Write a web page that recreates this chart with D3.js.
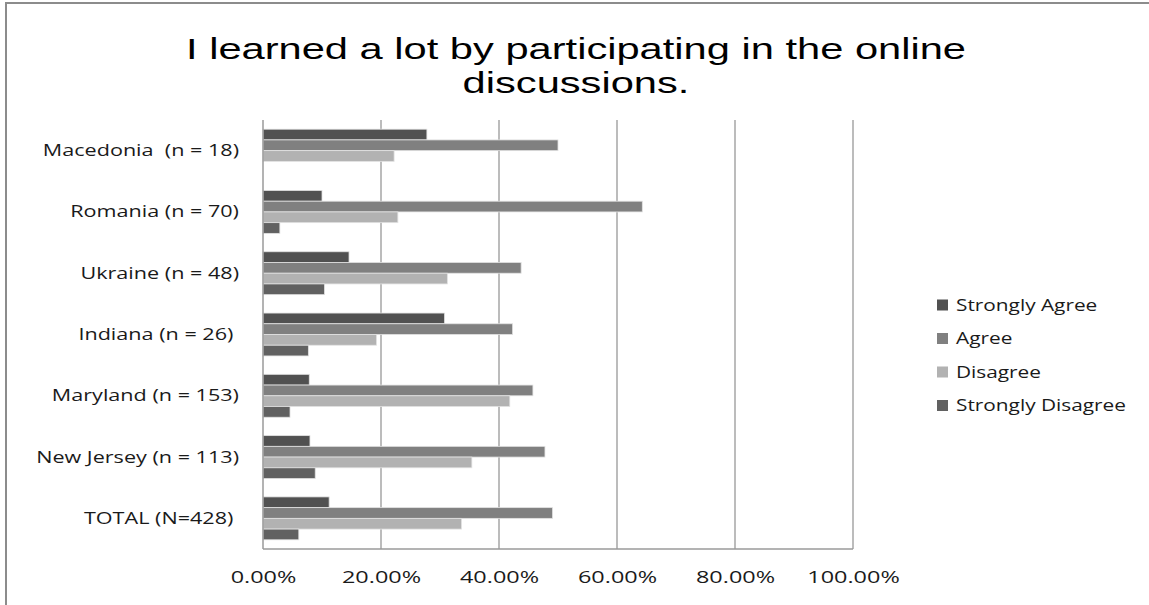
<!DOCTYPE html>
<html>
<head>
<meta charset="utf-8">
<script src="https://cdn.jsdelivr.net/npm/d3@7/dist/d3.min.js"></script>
<style>
  html, body { margin: 0; padding: 0; background: #fff; }
  svg { display: block; }
  text { font-family: "Open Sans", "DejaVu Sans", sans-serif; fill: #1a1a1a; }
</style>
</head>
<body>
<svg id="chart" width="1149" height="605"></svg>
<script>
// ---- data ----
const categories = [
  "Macedonia  (n = 18)",
  "Romania (n = 70)",
  "Ukraine (n = 48)",
  "Indiana (n = 26) ",
  "Maryland (n = 153)",
  "New Jersey (n = 113)",
  "TOTAL (N=428) "
];
const seriesNames = ["Strongly Agree", "Agree", "Disagree", "Strongly Disagree"];
const stronglyAgree    = [27.78, 10.00, 14.58, 30.77,  7.84,  7.96, 11.21];
const agree            = [50.00, 64.29, 43.75, 42.31, 45.75, 47.79, 49.07];
const disagree         = [22.22, 22.86, 31.25, 19.23, 41.83, 35.40, 33.64];
const stronglyDisagree = [ 0.00,  2.86, 10.42,  7.69,  4.58,  8.85,  6.07];
const xTicks = [0, 20, 40, 60, 80, 100];
const titleLines = ["I learned a lot by participating in the online", "discussions."];

const seriesValues = [stronglyAgree, agree, disagree, stronglyDisagree];
const colors = ["#515151", "#808080", "#b2b2b2", "#616161"];

// horizontally stretch text (the reference type is wide)
function stretch(sel, factor) {
  sel.each(function () {
    const w = this.getComputedTextLength();
    d3.select(this).attr("textLength", w * factor).attr("lengthAdjust", "spacingAndGlyphs");
  });
}

// ---- layout ----
const svg = d3.select("#chart");
const plot = { left: 263, right: 853, top: 120, bottom: 549 };

// frame
svg.append("rect")
  .attr("x", 6).attr("y", 3)
  .attr("width", 1160).attr("height", 620)
  .attr("fill", "none").attr("stroke", "#8c8c8c").attr("stroke-width", 2);

// title
const titleSel = svg.append("g").selectAll("text").data(titleLines).join("text")
  .attr("x", 576)
  .attr("y", (d, i) => 59 + i * 34)
  .attr("text-anchor", "middle")
  .style("font-family", "'Liberation Sans', Arimo, sans-serif")
  .style("font-size", "30px")
  .style("fill", "#000")
  .text(d => d);
const titleFactor = 780 / titleSel.node().getComputedTextLength();
titleSel.call(stretch, titleFactor);

const x = d3.scaleLinear().domain([0, 100]).range([plot.left, plot.right]);
const y = d3.scaleBand().domain(categories).range([plot.top, plot.bottom])
  .paddingInner(0.3).paddingOuter(0.15);
const ySub = d3.scaleBand().domain(seriesNames).range([0, y.bandwidth()]);

// gridlines
svg.append("g").selectAll("line").data(xTicks.slice(1)).join("line")
  .attr("x1", d => x(d)).attr("x2", d => x(d))
  .attr("y1", plot.top).attr("y2", plot.bottom)
  .attr("stroke", "#a6a6a6").attr("stroke-width", 1.5);

// bars
const rows = [];
categories.forEach((c, ci) => {
  seriesNames.forEach((s, si) => {
    rows.push({ cat: c, series: s, si, value: seriesValues[si][ci] });
  });
});
svg.append("g").selectAll("rect").data(rows.filter(r => r.value > 0)).join("rect")
  .attr("x", x(0))
  .attr("y", d => y(d.cat) + ySub(d.series))
  .attr("width", d => x(d.value) - x(0))
  .attr("height", ySub.bandwidth())
  .attr("fill", d => colors[d.si])
  .attr("stroke", "#e2e2e2").attr("stroke-width", 0.8);

// axes lines
svg.append("line")
  .attr("x1", plot.left).attr("x2", plot.left)
  .attr("y1", plot.top).attr("y2", plot.bottom)
  .attr("stroke", "#9a9a9a").attr("stroke-width", 1.5);
svg.append("line")
  .attr("x1", plot.left).attr("x2", plot.right)
  .attr("y1", plot.bottom).attr("y2", plot.bottom)
  .attr("stroke", "#9a9a9a").attr("stroke-width", 1.5);

// x tick labels
const xAxis = d3.axisBottom(x).tickValues(xTicks)
  .tickFormat(d => d.toFixed(2) + "%").tickSize(0).tickPadding(0);
const xg = svg.append("g").attr("transform", `translate(0,${plot.bottom + 22})`).call(xAxis);
xg.select(".domain").remove();
xg.selectAll("text").style("font-size", "16.5px").style("font-family", null).attr("fill", "#1a1a1a")
  .call(stretch, 1.42);

// y labels
const yAxis = d3.axisLeft(y).tickSize(0).tickPadding(0);
const yg = svg.append("g").attr("transform", `translate(239,0)`).call(yAxis);
yg.select(".domain").remove();
yg.selectAll("text").attr("xml:space", "preserve")
  .style("font-size", "17px").style("font-family", null).attr("fill", "#1a1a1a")
  .call(stretch, 1.27);

// legend
const lg = svg.append("g").attr("transform", "translate(937,305)");
const li = lg.selectAll("g").data(seriesNames).join("g")
  .attr("transform", (d, i) => `translate(0,${i * 33.5})`);
li.append("rect").attr("x", 0).attr("y", -5.5).attr("width", 11).attr("height", 11)
  .attr("fill", (d, i) => colors[i]);
li.append("text").attr("x", 19).attr("y", 0).attr("dy", "0.35em")
  .style("font-size", "16px").text(d => d)
  .call(stretch, 1.3);
</script>
</body>
</html>
